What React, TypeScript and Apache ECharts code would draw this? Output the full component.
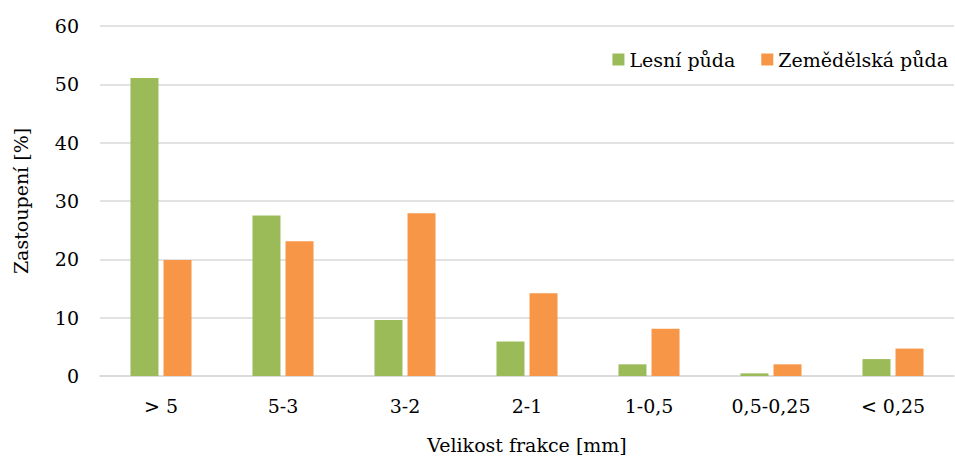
import React, { useEffect, useRef } from "react";
import * as echarts from "echarts";

const categories = ["> 5", "5-3", "3-2", "2-1", "1-0,5", "0,5-0,25", "< 0,25"];
const lesni = [51.1, 27.5, 9.6, 5.9, 2.0, 0.45, 2.9];
const zemedelska = [19.9, 23.1, 27.9, 14.2, 8.1, 2.0, 4.7];
const seriesNames = ["Lesní půda", "Zemědělská půda"];

const FONT = "DejaVu Serif";
const FS = 19;

export default function App() {
  const ref = useRef<HTMLDivElement>(null);
  useEffect(() => {
    if (!ref.current) return;
    const chart = echarts.init(ref.current, undefined, { renderer: "svg" });
    chart.setOption({
      animation: false,
      textStyle: { fontFamily: FONT },
      grid: { left: 100, right: 1, top: 26, bottom: 77, containLabel: false },
      legend: {
        data: seriesNames,
        top: 45,
        right: 2,
        itemWidth: 12,
        itemHeight: 12,
        itemGap: 26,
        icon: "rect",
        textStyle: { fontFamily: FONT, fontSize: FS, color: "#000" },
      },
      xAxis: {
        type: "category",
        data: categories,
        name: "Velikost frakce [mm]",
        nameLocation: "middle",
        nameGap: 59,
        nameTextStyle: { fontFamily: FONT, fontSize: FS, color: "#000" },
        axisLine: { show: true, lineStyle: { color: "#D9D9D9", width: 1.5 } },
        axisTick: { show: false },
        axisLabel: { fontFamily: FONT, fontSize: FS, color: "#000", margin: 20 },
      },
      yAxis: {
        type: "value",
        min: 0,
        max: 60,
        interval: 10,
        name: "Zastoupení [%]",
        nameLocation: "middle",
        nameGap: 70,
        nameRotate: 90,
        nameTextStyle: { fontFamily: FONT, fontSize: FS, color: "#000" },
        axisLine: { show: false },
        axisTick: { show: false },
        axisLabel: { fontFamily: FONT, fontSize: FS, color: "#000", margin: 21 },
        splitLine: { show: true, lineStyle: { color: "#D9D9D9", width: 1.5 } },
      },
      series: [
        {
          name: seriesNames[0],
          type: "bar",
          data: lesni,
          barWidth: 28,
          barGap: "18%",
          itemStyle: { color: "#9BBB59" },
        },
        {
          name: seriesNames[1],
          type: "bar",
          data: zemedelska,
          barWidth: 28,
          itemStyle: { color: "#F79646" },
        },
      ],
    });
    return () => chart.dispose();
  }, []);
  return (
    <div
      ref={ref}
      style={{ position: "absolute", left: 0, top: 0, width: 955, height: 459 }}
    />
  );
}
